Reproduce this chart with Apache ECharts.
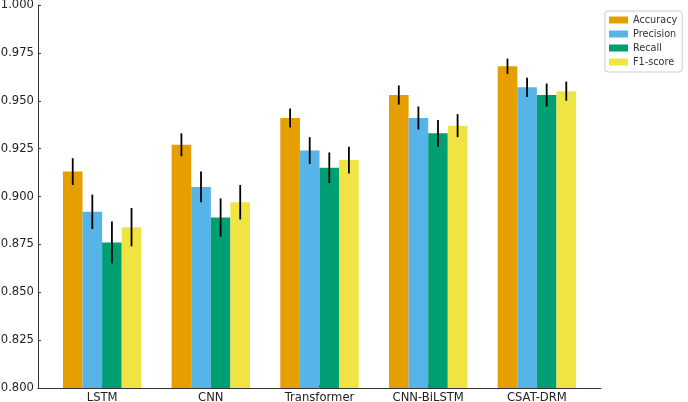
<!DOCTYPE html>
<html>
<head>
<meta charset="utf-8">
<script src="https://cdn.jsdelivr.net/npm/echarts@6/dist/echarts.min.js"></script>
<style>
  html, body { margin: 0; padding: 0; background: #fff; }
  #chart { width: 688px; height: 402px; }
</style>
</head>
<body>
<div id="chart"></div>
<script>
const models = ['LSTM', 'CNN', 'Transformer', 'CNN-BiLSTM', 'CSAT-DRM']
const metrics = ['Accuracy', 'Precision', 'Recall', 'F1-score']
const colors = ['#E69F00', '#56B4E9', '#009E73', '#F0E442']

const accuracy = [0.913, 0.927, 0.941, 0.953, 0.968]
const precision = [0.892, 0.905, 0.924, 0.941, 0.957]
const recall = [0.876, 0.889, 0.915, 0.933, 0.953]
const f1score = [0.884, 0.897, 0.919, 0.937, 0.955]

const accuracyErr = [0.007, 0.006, 0.005, 0.005, 0.004]
const precisionErr = [0.009, 0.008, 0.007, 0.006, 0.005]
const recallErr = [0.011, 0.010, 0.008, 0.007, 0.006]
const f1scoreErr = [0.010, 0.009, 0.007, 0.006, 0.005]

const yTicks = [0.8, 1.0, 0.025]

const values = [accuracy, precision, recall, f1score]
const errors = [accuracyErr, precisionErr, recallErr, f1scoreErr]

const BAR_W = 19.6
const FONT = 'DejaVu Sans'

const chart = echarts.init(document.getElementById('chart'))

const barSeries = metrics.map((name, k) => ({
  name, type: 'bar',
  data: values[k].map((v, i) => [i, v]),
  barWidth: BAR_W, barGap: '0%',
  itemStyle: { color: colors[k] },
  z: 2
}))

// error bars, shifted sideways to sit on each bar of the group
const errSeries = metrics.map((name, k) => ({
  name: 'err-' + name, type: 'custom',
  data: values[k].map((v, i) => [i, v - errors[k][i], v + errors[k][i]]),
  encode: { x: 0, y: [1, 2] },
  z: 5,
  renderItem(params, api) {
    const lo = api.coord([api.value(0), api.value(1)])
    const hi = api.coord([api.value(0), api.value(2)])
    const dx = (k - 1.5) * BAR_W
    return {
      type: 'line',
      shape: { x1: lo[0] + dx, y1: lo[1], x2: hi[0] + dx, y2: hi[1] },
      style: { stroke: '#000', lineWidth: 1.8 }
    }
  }
}))

chart.setOption({
  animation: false,
  textStyle: { fontFamily: FONT },
  grid: { left: 38, right: 87, top: 5, bottom: 14, outerBoundsMode: 'none' },
  legend: {
    data: metrics,
    orient: 'vertical',
    left: 605, top: 11,
    icon: 'rect', itemWidth: 19, itemHeight: 7, itemGap: 4,
    padding: [4, 5, 5, 4],
    borderColor: '#cccccc', borderWidth: 1, borderRadius: 3,
    textStyle: { color: '#333', fontSize: 9.7, fontFamily: FONT }
  },
  xAxis: {
    type: 'value', min: -0.59, max: 4.59,
    axisLine: { show: true, onZero: false, lineStyle: { color: '#333', width: 1 } },
    axisTick: { show: true, inside: true, length: 3, customValues: [0, 1, 2, 3, 4], lineStyle: { color: '#333' } },
    axisLabel: {
      customValues: [0, 1, 2, 3, 4], margin: 4,
      color: '#222', fontSize: 11.6, fontFamily: FONT,
      formatter: v => models[Math.round(v)]
    },
    splitLine: { show: false }
  },
  yAxis: {
    type: 'value', min: yTicks[0], max: yTicks[1], interval: yTicks[2],
    axisLine: { show: true, onZero: false, lineStyle: { color: '#333', width: 1 } },
    axisTick: { show: true, inside: true, length: 3, lineStyle: { color: '#333' } },
    axisLabel: { color: '#222', fontSize: 11.6, fontFamily: FONT, margin: 4, formatter: v => v.toFixed(3) },
    splitLine: { show: false }
  },
  series: [...barSeries, ...errSeries]
})
</script>
</body>
</html>
